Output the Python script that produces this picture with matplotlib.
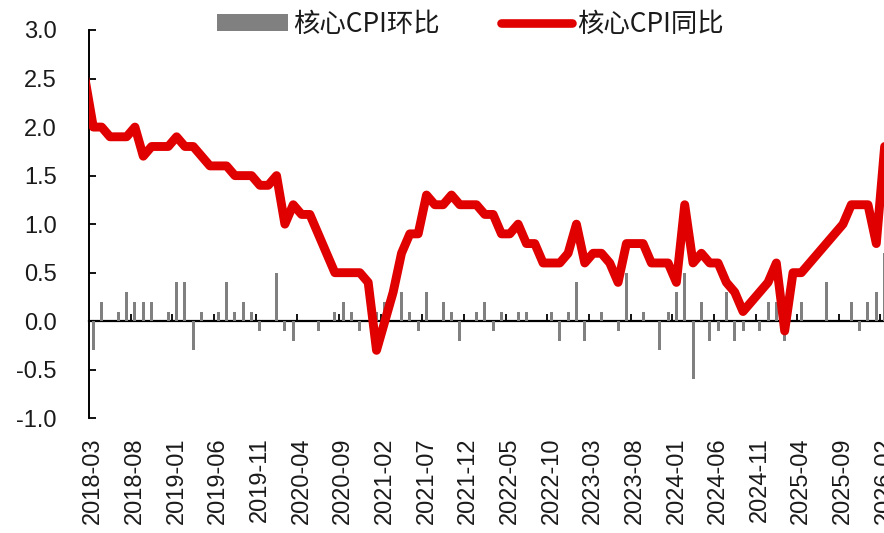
import matplotlib
matplotlib.use('Agg')
import matplotlib.pyplot as plt
import numpy as np
import pandas as pd
from matplotlib.patches import Patch
from matplotlib.lines import Line2D
from matplotlib.ticker import FormatStrFormatter, FixedLocator

plt.rcParams['font.family'] = ['Liberation Sans', 'Noto Sans CJK SC', 'DejaVu Sans']

# ---------------- data ----------------
line_months = [p.strftime('%Y-%m') for p in pd.period_range('2018-02', '2026-02', freq='M')]
bar_months = line_months[1:]
tick_labels = bar_months[::5]

core_cpi_yoy = [
    2.5,
    2.0, 2.0, 1.9, 1.9, 1.9, 2.0, 1.7, 1.8, 1.8, 1.8,
    1.9, 1.8, 1.8, 1.7, 1.6, 1.6, 1.6, 1.5, 1.5, 1.5, 1.4, 1.4,
    1.5, 1.0, 1.2, 1.1, 1.1, 0.9, 0.7, 0.5, 0.5, 0.5, 0.5, 0.4,
    -0.3, 0.0, 0.3, 0.7, 0.9, 0.9, 1.3, 1.2, 1.2, 1.3, 1.2, 1.2,
    1.2, 1.1, 1.1, 0.9, 0.9, 1.0, 0.8, 0.8, 0.6, 0.6, 0.6, 0.7,
    1.0, 0.6, 0.7, 0.7, 0.6, 0.4, 0.8, 0.8, 0.8, 0.6, 0.6, 0.6,
    0.4, 1.2, 0.6, 0.7, 0.6, 0.6, 0.4, 0.3, 0.1, 0.2, 0.3, 0.4,
    0.6, -0.1, 0.5, 0.5, 0.6, 0.7, 0.8, 0.9, 1.0, 1.2, 1.2, 1.2,
    0.8, 1.8,
]

core_cpi_mom = [
    -0.3, 0.2, 0.0, 0.1, 0.3, 0.2, 0.2, 0.2, 0.0, 0.1,
    0.4, 0.4, -0.3, 0.1, 0.0, 0.1, 0.4, 0.1, 0.2, 0.1, -0.1, 0.0,
    0.5, -0.1, -0.2, 0.0, 0.0, -0.1, 0.0, 0.1, 0.2, 0.1, -0.1, 0.0,
    0.1, 0.2, 0.0, 0.3, 0.1, -0.1, 0.3, 0.0, 0.2, 0.1, -0.2, 0.0,
    0.1, 0.2, -0.1, 0.1, 0.0, 0.1, 0.1, 0.0, 0.0, 0.1, -0.2, 0.1,
    0.4, -0.2, 0.0, 0.1, 0.0, -0.1, 0.5, 0.0, 0.1, 0.0, -0.3, 0.1,
    0.3, 0.5, -0.6, 0.2, -0.2, -0.1, 0.3, -0.2, -0.1, 0.0, -0.1, 0.2,
    0.2, -0.2, 0.0, 0.2, 0.0, 0.0, 0.4, 0.0, 0.0, 0.2, -0.1, 0.2,
    0.3, 0.7,
]

y_ticks = [-1.0, -0.5, 0.0, 0.5, 1.0, 1.5, 2.0, 2.5, 3.0]

RED = '#E00000'
GRAY = '#808080'
TXT = '#1a1a1a'

# ---------------- figure ----------------
fig = plt.figure(figsize=(8.84, 5.33), dpi=100)
W, H = 884, 533
ax_left_px, ax_top_px, ax_bot_px = 89.3, 30.0, 418.3
ax_right_px = 888.8
ax = fig.add_axes([ax_left_px / W, 1 - ax_bot_px / H,
                   (ax_right_px - ax_left_px) / W, (ax_bot_px - ax_top_px) / H])

# categorical axis: line first so 2018-02 gets position 0
ax.plot(line_months, core_cpi_yoy, color=RED, lw=6.4, solid_joinstyle='round',
        solid_capstyle='round', zorder=4)
ax.bar(bar_months, core_cpi_mom, width=0.36, color=GRAY, zorder=2)

ax.set_xlim(0.52, 96.5)
ax.set_ylim(-1.0, 3.0)

# y axis
ax.yaxis.set_major_locator(FixedLocator(y_ticks))
ax.yaxis.set_major_formatter(FormatStrFormatter('%.1f'))
ax.tick_params(axis='y', direction='in', length=5, width=1.3, pad=23.5,
               labelsize=17, labelcolor=TXT, color='black')
for s in ['top', 'right', 'bottom']:
    ax.spines[s].set_visible(False)
ax.spines['left'].set_linewidth(1.4)

# x tick labels at bottom (no tick marks)
ax.set_xticks(tick_labels)
ax.set_xticklabels(tick_labels, rotation=90)
ax.tick_params(axis='x', length=0, pad=14, labelsize=17, labelcolor=TXT)

# zero axis line with tick marks between categories
sec = ax.secondary_xaxis(0.25)
sec.set_xticks(np.arange(0.5, 97, 5))
sec.tick_params(axis='x', direction='in', length=5, width=1.3, labelbottom=False,
                color='black')
sec.spines['bottom'].set_linewidth(1.6)
sec.spines['bottom'].set_zorder(3)

# legend
handles = [Patch(facecolor=GRAY, edgecolor='none'),
           Line2D([], [], color=RED, lw=6.2, solid_capstyle='round')]
labels = ['核心CPI环比', '核心CPI同比']
leg = fig.legend(handles, labels, ncol=2, frameon=False,
                 loc='center left', bbox_to_anchor=(217 / W, 1 - 24 / H),
                 borderpad=0, borderaxespad=0, handlelength=2.7, handleheight=0.6,
                 handletextpad=0.2, columnspacing=2.3,
                 prop={'family': ['Noto Sans CJK SC', 'DejaVu Sans'], 'size': 19})
for t in leg.get_texts():
    t.set_color(TXT)

fig.savefig('out.png', dpi=100)
